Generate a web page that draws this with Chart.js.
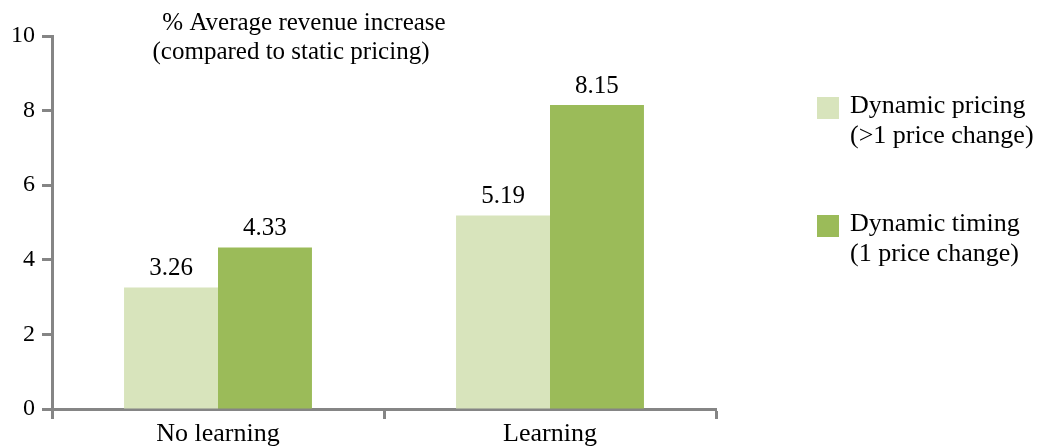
<!DOCTYPE html>
<html>
<head>
<meta charset="utf-8">
<title>Average revenue increase</title>
<script src="https://cdn.jsdelivr.net/npm/chart.js@4/dist/chart.umd.min.js"></script>
<style>
    html, body { margin: 0; padding: 0; background: #ffffff; }
    canvas { display: block; }
</style>
</head>
<body>
<canvas id="revenueChart" width="1044" height="446"></canvas>
<script>
// --- Data ---
const categories = ['No learning', 'Learning'];
const pricingValues = [3.26, 5.19];   // Dynamic pricing (>1 price change)
const timingValues = [4.33, 8.15];    // Dynamic timing (1 price change)
const yTicks = [0, 2, 4, 6, 8, 10];
const titleLines = ['% Average revenue increase', '(compared to static pricing)'];
const pricingLegend = ['Dynamic pricing', '(>1 price change)'];
const timingLegend = ['Dynamic timing', '(1 price change)'];

const SERIF = '"Times New Roman", Times, "Liberation Serif", "Noto Serif", "DejaVu Serif", serif';
const LIGHT_GREEN = '#d8e4bc';
const DARK_GREEN = '#9bbb59';
const AXIS_GREY = '#858585';

// Value labels above each bar, title inside the plot and the legend on the right
const annotations = {
    id: 'annotations',
    afterDatasetsDraw(chart) {
        const ctx = chart.ctx;
        ctx.save();
        ctx.fillStyle = '#000000';

        // values on top of bars
        ctx.font = '25px ' + SERIF;
        ctx.textAlign = 'center';
        ctx.textBaseline = 'alphabetic';
        chart.data.datasets.forEach((ds, i) => {
            chart.getDatasetMeta(i).data.forEach((bar, j) => {
                ctx.fillText(ds.data[j].toFixed(2), bar.x, bar.y - 12);
            });
        });

        // title
        ctx.font = '25px ' + SERIF;
        ctx.fillText(titleLines[0], 304, 30);
        ctx.fillText(titleLines[1], 291, 59);

        // legend
        const items = [
            { color: LIGHT_GREEN, lines: pricingLegend, top: 97 },
            { color: DARK_GREEN, lines: timingLegend, top: 215 }
        ];
        ctx.font = '26px ' + SERIF;
        ctx.textAlign = 'left';
        items.forEach(item => {
            ctx.fillStyle = item.color;
            ctx.fillRect(817, item.top, 22, 22);
            ctx.fillStyle = '#000000';
            ctx.fillText(item.lines[0], 850, item.top + 16);
            ctx.fillText(item.lines[1], 850, item.top + 46);
        });
        ctx.restore();
    }
};

function createRevenueChart() {
    const ctx = document.getElementById('revenueChart').getContext('2d');
    new Chart(ctx, {
        type: 'bar',
        data: {
            labels: categories,
            datasets: [{
                label: pricingLegend.join(' '),
                data: pricingValues,
                backgroundColor: LIGHT_GREEN,
                borderWidth: 0
            }, {
                label: timingLegend.join(' '),
                data: timingValues,
                backgroundColor: DARK_GREEN,
                borderWidth: 0
            }]
        },
        options: {
            responsive: false,
            animation: false,
            categoryPercentage: 0.566,
            barPercentage: 1.0,
            layout: {
                padding: { top: 36, right: 328, bottom: 0, left: 0 }
            },
            scales: {
                x: {
                    afterFit: (scale) => { scale.height = 37; },
                    grid: {
                        offset: true,
                        drawOnChartArea: false,
                        drawTicks: true,
                        tickLength: 10,
                        tickWidth: 3,
                        tickColor: AXIS_GREY
                    },
                    border: { display: true, color: AXIS_GREY, width: 3 },
                    ticks: {
                        color: '#000000',
                        padding: 0,
                        font: { family: SERIF, size: 26 }
                    }
                },
                y: {
                    min: 0,
                    max: 10,
                    afterFit: (scale) => { scale.width = 52; },
                    afterBuildTicks: (scale) => {
                        scale.ticks = yTicks.map(v => ({ value: v }));
                    },
                    grid: {
                        drawOnChartArea: false,
                        drawTicks: true,
                        tickLength: 10,
                        tickWidth: 3,
                        tickColor: AXIS_GREY
                    },
                    border: { display: true, color: AXIS_GREY, width: 3 },
                    ticks: {
                        color: '#000000',
                        padding: 7,
                        font: { family: SERIF, size: 24 }
                    }
                }
            },
            plugins: {
                legend: { display: false },
                tooltip: { enabled: false }
            }
        },
        plugins: [annotations]
    });
}

createRevenueChart();
</script>
</body>
</html>
